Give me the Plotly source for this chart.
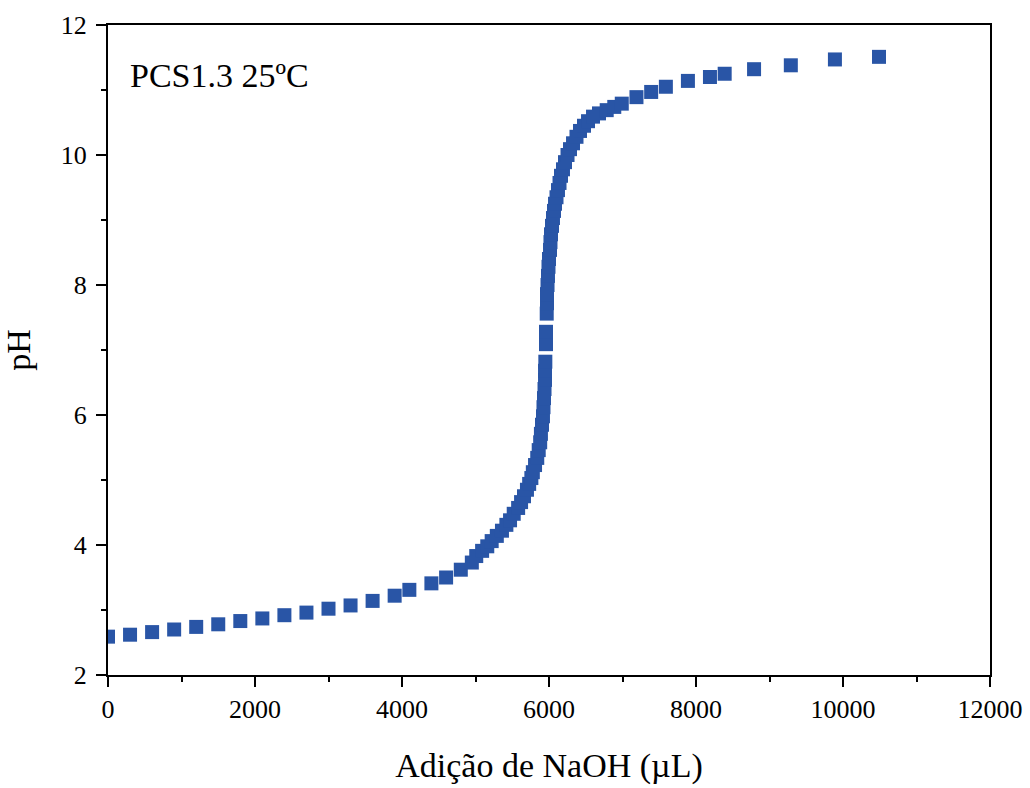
import plotly.graph_objects as go

naoh_ul = [
    0, 300, 600, 900, 1200, 1500, 1800, 2100, 2400, 2700, 3000, 3300, 3600, 3900,
    4100, 4400, 4600, 4800, 4950,
    5010, 5090, 5160, 5220, 5290, 5360, 5420, 5470, 5520, 5580, 5620, 5660, 5700,
    5730, 5760, 5780, 5810, 5840, 5860, 5880, 5890, 5905, 5918, 5925, 5932, 5939,
    5946, 5946, 5950, 5959, 5959, 5969, 5973, 5973, 5980, 5986, 5993, 6000, 6014,
    6020, 6027, 6041, 6054, 6068, 6082, 6102, 6122, 6143, 6163, 6190, 6218, 6252,
    6286, 6327, 6374, 6422, 6476, 6531, 6599, 6680, 6785, 6888, 6990,
    7190, 7390, 7590, 7890, 8190, 8390, 8790, 9290, 9890, 10490,
]
ph = [
    2.59, 2.62, 2.66, 2.70, 2.74, 2.78, 2.83, 2.87, 2.92, 2.96, 3.02, 3.07, 3.14, 3.22,
    3.31, 3.41, 3.50, 3.62, 3.73,
    3.83, 3.91, 3.98, 4.06, 4.14, 4.22, 4.31, 4.38, 4.48, 4.57, 4.66, 4.75, 4.85,
    4.94, 5.03, 5.12, 5.23, 5.34, 5.46, 5.58, 5.71, 5.85, 5.98, 6.12, 6.26, 6.40,
    6.54, 6.68, 6.82, 7.09, 7.28, 7.56, 7.72, 7.86, 8.00, 8.14, 8.28, 8.40, 8.54,
    8.66, 8.78, 8.91, 9.03, 9.14, 9.25, 9.35, 9.46, 9.57, 9.68, 9.78, 9.89, 10.00,
    10.09, 10.18, 10.28, 10.37, 10.45, 10.52, 10.59, 10.64, 10.69, 10.74, 10.79,
    10.89, 10.97, 11.05, 11.14, 11.20, 11.25, 11.32, 11.38, 11.47, 11.51,
]
x_ticks = [0, 2000, 4000, 6000, 8000, 10000, 12000]
y_ticks = [2, 4, 6, 8, 10, 12]

FONT = "Liberation Serif, Times New Roman, serif"

fig = go.Figure()
fig.add_trace(go.Scatter(
    x=naoh_ul, y=ph, mode="markers",
    marker=dict(symbol="square", size=14, color="#2955a6", line=dict(width=0)),
    showlegend=False,
))

axis_common = dict(
    showline=True, linecolor="black", linewidth=2, mirror=True,
    ticks="outside", ticklen=10, tickwidth=2, tickcolor="black",
    showgrid=False, zeroline=False, automargin=False,
    tickfont=dict(family=FONT, size=26, color="black"),
)

fig.update_xaxes(
    range=[0, 12000], tickvals=x_ticks, ticktext=[str(v) for v in x_ticks],
    minor=dict(dtick=1000, ticks="outside", ticklen=5, tickwidth=2, tickcolor="black"),
    title=dict(text="Adição de NaOH (µL)", font=dict(family=FONT, size=34, color="black"), standoff=30),
    **axis_common,
)
fig.update_yaxes(
    range=[2, 12], tickvals=y_ticks, ticktext=[str(v) for v in y_ticks],
    minor=dict(dtick=1, ticks="outside", ticklen=5, tickwidth=2, tickcolor="black"),
    title=dict(text="pH", font=dict(family=FONT, size=34, color="black"), standoff=26),
    ticklabelstandoff=4,
    **axis_common,
)

fig.add_annotation(
    text="PCS1.3 25ºC", xref="paper", yref="paper", x=0.023, y=0.923,
    xanchor="left", yanchor="middle", showarrow=False,
    font=dict(family=FONT, size=34, color="black"),
)

fig.update_layout(
    width=1030, height=788,
    margin=dict(l=108, r=40, t=25, b=113),
    paper_bgcolor="white", plot_bgcolor="white",
)

fig.write_html("out.html")
